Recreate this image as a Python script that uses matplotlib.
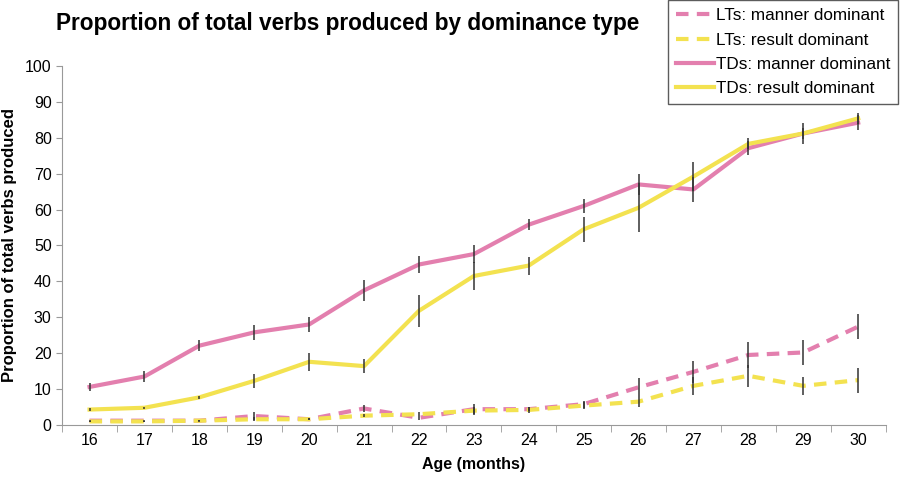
import numpy as np
import matplotlib
matplotlib.use('Agg')
from matplotlib import pyplot as plt

plt.rcParams['font.family'] = ['Liberation Sans', 'DejaVu Sans']

ages = [16, 17, 18, 19, 20, 21, 22, 23, 24, 25, 26, 27, 28, 29, 30]

lt_manner = [1.2, 1.2, 1.2, 2.5, 1.6, 4.6, 2.0, 4.4, 4.4, 5.8, 10.5, 14.8, 19.5, 20.2, 27.4]
lt_manner_err = [0.3, 0.3, 0.3, 1.0, 0.3, 1.0, 0.5, 1.5, 0.5, 1.0, 2.5, 3.0, 3.5, 3.5, 3.5]
lt_result = [1.0, 1.0, 1.2, 1.6, 1.6, 2.6, 3.0, 4.0, 4.2, 5.4, 6.5, 10.9, 13.7, 10.9, 12.5]
lt_result_err = [0.2, 0.2, 0.2, 0.5, 0.3, 0.5, 0.5, 1.0, 0.8, 1.0, 1.5, 2.5, 3.0, 2.5, 3.5]
td_manner = [10.6, 13.5, 22.1, 25.8, 28.0, 37.5, 44.7, 47.6, 55.8, 61.0, 67.0, 65.6, 77.1, 81.2, 84.2]
td_manner_err = [1.0, 1.5, 1.5, 2.0, 2.0, 3.0, 2.5, 2.5, 1.5, 2.0, 3.0, 3.5, 2.0, 3.0, 2.0]
td_result = [4.3, 4.8, 7.7, 12.3, 17.6, 16.4, 31.8, 41.5, 44.4, 54.5, 60.5, 69.2, 78.3, 81.2, 85.4]
td_result_err = [0.3, 0.3, 0.5, 2.0, 2.5, 2.0, 4.5, 3.8, 2.5, 3.5, 6.8, 4.0, 1.5, 1.5, 1.5]

pink = '#E37FAE'
yellow = '#F3E250'

fig = plt.figure(figsize=(9, 4.8), dpi=100)
ax = fig.add_axes([0.069, 0.1146, 0.915, 0.748])

series = [
    (lt_manner, lt_manner_err, pink, '--', 'LTs: manner dominant'),
    (lt_result, lt_result_err, yellow, '--', 'LTs: result dominant'),
    (td_manner, td_manner_err, pink, '-', 'TDs: manner dominant'),
    (td_result, td_result_err, yellow, '-', 'TDs: result dominant'),
]
for vals, err, col, ls, lab in series:
    ax.plot(ages, vals, color=col, linestyle=ls, linewidth=3, label=lab,
            dashes=(3, 2) if ls == '--' else (None, None), zorder=2)
    ax.errorbar(ages, vals, yerr=err, fmt='none', ecolor='#333333',
                elinewidth=1.1, capsize=0, zorder=3)

ax.set_xlim(15.5, 30.5)
ax.set_ylim(0, 100)
ax.set_yticks(np.arange(0, 101, 10))
ax.set_xticks(ages)
ax.set_xticks(np.arange(15.5, 31, 1), minor=True)
ax.tick_params(axis='x', which='major', length=0, labelsize=11.5, pad=6)
ax.tick_params(axis='x', which='minor', length=5, color='#999999', direction='out')
ax.tick_params(axis='y', length=4, color='#999999', labelsize=11.5)

for s in ['top', 'right']:
    ax.spines[s].set_visible(False)
for s in ['left', 'bottom']:
    ax.spines[s].set_color('#999999')

ax.set_xlabel('Age (months)', fontsize=11.5, fontweight='bold', labelpad=6)
ax.set_ylabel('Proportion of total verbs produced', fontsize=12, fontweight='bold', labelpad=6)

fig.text(0.062, 0.952, 'Proportion of total verbs produced by dominance type',
         fontsize=16.3, fontweight='bold', va='center', ha='left')

leg = fig.legend(loc='upper right', bbox_to_anchor=(0.998, 0.999), fontsize=12.3,
                 handlelength=2.2, handletextpad=0.15, labelspacing=0.55,
                 fancybox=False, frameon=True, borderpad=0.45, borderaxespad=0)
leg.get_frame().set_edgecolor('#333333')
leg.get_frame().set_linewidth(1)

plt.savefig('out.png', dpi=100)
